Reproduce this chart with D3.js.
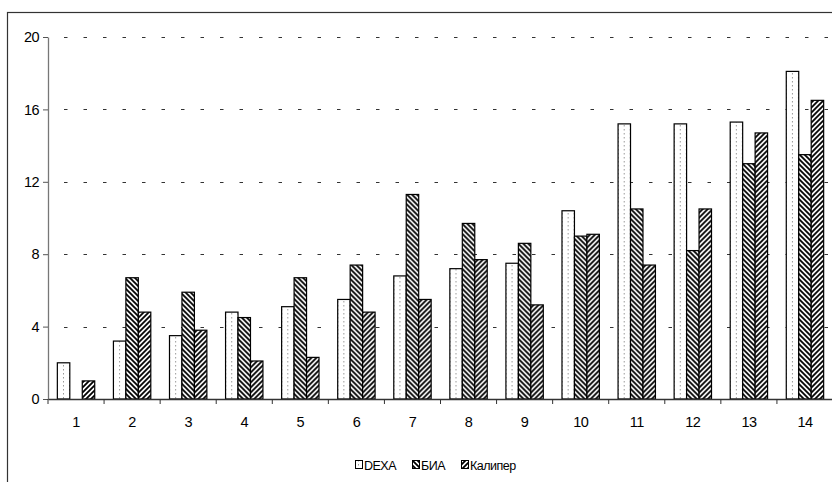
<!DOCTYPE html>
<html>
<head>
<meta charset="utf-8">
<script src="https://cdnjs.cloudflare.com/ajax/libs/d3/7.8.5/d3.min.js"></script>
<style>
  body { margin: 0; background: #fff; }
  text { font-family: "Liberation Sans", Arial, sans-serif; fill: #000; }
</style>
</head>
<body>
<div id="chart"></div>
<script>
var categories = ["1","2","3","4","5","6","7","8","9","10","11","12","13","14"];
var seriesNames = ["DEXA", "БИА", "Калипер"];
var dexa    = [2.0, 3.2, 3.5, 4.8, 5.1, 5.5, 6.8, 7.2, 7.5, 10.4, 15.2, 15.2, 15.3, 18.1];
var bia     = [0,   6.7, 5.9, 4.5, 6.7, 7.4, 11.3, 9.7, 8.6, 9.0, 10.5, 8.2, 13.0, 13.5];
var kaliper = [1.0, 4.8, 3.8, 2.1, 2.3, 4.8, 5.5, 7.7, 5.2, 9.1, 7.4, 10.5, 14.7, 16.5];
var yTicks = [0, 4, 8, 12, 16, 20];

var W = 832, H = 482;
var margin = {t: 37, r: -1, b: 83, l: 48};
var width = W - margin.l - margin.r,
    height = H - margin.t - margin.b;

var svg = d3.select('#chart').append('svg')
    .attr('width', W)
    .attr('height', H);

var defs = svg.append('defs');
// dotted fill for DEXA
var pDot = defs.append('pattern').attr('id', 'pDexa')
    .attr('patternUnits', 'userSpaceOnUse').attr('width', 6).attr('height', 4);
pDot.append('rect').attr('width', 6).attr('height', 4).attr('fill', '#fff');
pDot.append('rect').attr('x', 3).attr('y', 0).attr('width', 1).attr('height', 1.5).attr('fill', '#999');
// wide downward diagonal for БИА
var pBia = defs.append('pattern').attr('id', 'pBia')
    .attr('patternUnits', 'userSpaceOnUse').attr('width', 5).attr('height', 5);
pBia.append('rect').attr('width', 5).attr('height', 5).attr('fill', '#fff');
pBia.append('path').attr('d', 'M-1,4 l2,2 M0,0 l5,5 M4,-1 l2,2')
    .attr('stroke', '#000').attr('stroke-width', 1.8);
// wide upward diagonal for Калипер
var pKal = defs.append('pattern').attr('id', 'pKal')
    .attr('patternUnits', 'userSpaceOnUse').attr('width', 5).attr('height', 5);
pKal.append('rect').attr('width', 5).attr('height', 5).attr('fill', '#fff');
pKal.append('path').attr('d', 'M-1,1 l2,-2 M0,5 l5,-5 M4,6 l2,-2')
    .attr('stroke', '#000').attr('stroke-width', 1.8);

var fills = ['url(#pDexa)', 'url(#pBia)', 'url(#pKal)'];

// outer chart frame
svg.append('rect')
    .attr('x', 7.5).attr('y', 12.5)
    .attr('width', 900).attr('height', 600)
    .attr('fill', 'none').attr('stroke', '#333').attr('stroke-width', 1.2);

var plot = svg.append('g')
    .attr('transform', 'translate(' + margin.l + ',' + margin.t + ')');

var x = d3.scaleBand().domain(categories).range([0, width]);
var xs = d3.scaleBand().domain(seriesNames)
    .range([x.bandwidth() * 0.75 / 4.5, x.bandwidth() * 3.75 / 4.5]);
var y = d3.scaleLinear().domain([0, 20]).range([height, 0]);

// dashed gridlines
plot.append('g').selectAll('line')
    .data(yTicks.slice(1))
    .enter().append('line')
    .attr('x1', 0).attr('x2', width + 5)
    .attr('y1', function(d){ return Math.round(y(d)) + 0.5; })
    .attr('y2', function(d){ return Math.round(y(d)) + 0.5; })
    .attr('stroke', '#333')
    .attr('stroke-dasharray', '3.5,16')
    .attr('stroke-dashoffset', -16);

// bars
var rows = categories.map(function(c, i){
    return {cat: c, vals: [dexa[i], bia[i], kaliper[i]]};
});
var groups = plot.selectAll('.cat')
    .data(rows)
    .enter().append('g')
    .attr('class', 'cat')
    .attr('transform', function(d){ return 'translate(' + x(d.cat) + ',0)'; });

groups.selectAll('rect')
    .data(function(d){ return d.vals.map(function(v, k){ return {s: seriesNames[k], v: v, k: k}; }); })
    .enter().filter(function(d){ return d.v > 0; }).append('rect')
    .attr('x', function(d){ return xs(d.s); })
    .attr('y', function(d){ return y(d.v); })
    .attr('width', xs.bandwidth())
    .attr('height', function(d){ return height - y(d.v); })
    .attr('fill', function(d){ return fills[d.k]; })
    .attr('stroke', '#000')
    .attr('stroke-width', 1.2);

// y axis
var yAxis = d3.axisLeft(y).tickValues(yTicks).tickSize(5).tickSizeOuter(0).tickPadding(4);
var gy = plot.append('g').call(yAxis);
gy.select('.domain').attr('stroke', '#777').attr('stroke-width', 1.3);
gy.selectAll('.tick line').attr('stroke', '#555');
gy.selectAll('text').style('font-size', '14.5px').attr('letter-spacing', '-0.6px');

// x axis
var xAxis = d3.axisBottom(x).tickSize(0).tickPadding(18);
var gx = plot.append('g')
    .attr('transform', 'translate(0,' + height + ')')
    .call(xAxis);
gx.select('.domain').attr('stroke', '#333').attr('stroke-width', 1.3);
gx.selectAll('text').style('font-size', '14.5px').attr('letter-spacing', '-0.6px');
gx.selectAll('.bound')
    .data(categories)
    .enter().append('line')
    .attr('class', 'bound')
    .attr('x1', function(d){ return x(d); }).attr('x2', function(d){ return x(d); })
    .attr('y1', 0).attr('y2', 5)
    .attr('stroke', '#333');

// legend
var legend = svg.append('g').attr('transform', 'translate(355,460)');
var legX = [0, 57, 106];
seriesNames.forEach(function(name, k){
    var item = legend.append('g').attr('transform', 'translate(' + legX[k] + ',0)');
    item.append('rect')
        .attr('x', 0.5).attr('y', 0.5).attr('width', 7).attr('height', 8)
        .attr('fill', fills[k]).attr('stroke', '#000').attr('stroke-width', 1);
    item.append('text')
        .attr('x', 9).attr('y', 9.5)
        .style('font-size', '12.5px')
        .attr('letter-spacing', '-0.5px')
        .text(name);
});
</script>
</body>
</html>
